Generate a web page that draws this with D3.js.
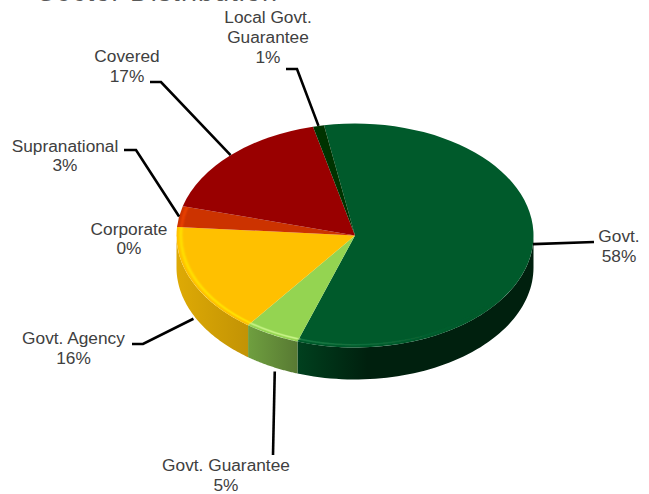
<!DOCTYPE html>
<html>
<head>
<meta charset="utf-8">
<title>Sector Distribution</title>
<script src="https://cdn.jsdelivr.net/npm/d3@7/dist/d3.min.js"></script>
<style>
  html, body { margin: 0; padding: 0; background: #fff; overflow: hidden; }
  svg { display: block; }
  text { font-family: "Liberation Sans", Arial, sans-serif; fill: #404040; }
</style>
</head>
<body>
<svg id="chart" width="649" height="494"></svg>
<script>
// Sector shares, in percent, clockwise from the start of the pie
const sectors = ["Govt.", "Govt. Guarantee", "Govt. Agency", "Corporate", "Supranational", "Covered", "Local Govt. Guarantee"];
const shares = [58, 5, 16, 0, 3, 17, 1];
const labelLines = [["Govt."], ["Govt. Guarantee"], ["Govt. Agency"], ["Corporate"], ["Supranational"], ["Covered"], ["Local Govt.", "Guarantee"]];

// Per-sector paint: top face, wall (left to right), rim glint
const faceColors = ["#005a2b", "#94d451", "#ffc000", "#ff6600", "#cc3300", "#990000", "#003300"];
const wallLeft = ["#00401e", "#6f9f3f", "#deaa05", "#d95500", "#aa2b00", "#800000", "#002800"];
const wallRight = ["#00200e", "#587a33", "#c29305", "#d95500", "#aa2b00", "#800000", "#002800"];
const glintColors = ["#1a7a45", "#c8f488", "#ffe600", "#ff7a00", "#ff4a00", null, null];

// Label placement: text centre, first baseline, leader elbow points
const labelCentre = [619, 226, 73.5, 129, 65, 127, 268];
const labelBaseline = [242, 471, 344, 235, 152, 62, 23];
const lineGap = [20, 20, 20, 19, 19, 20, 20];
const leaderElbows = [
  [[594, 242]],
  [[273, 455]],
  [[143, 344], [132, 344]],
  [],
  [[136, 150], [124, 150]],
  [[161, 82], [150, 82]],
  [[297, 69], [286, 69]]
];

const cx = 355, cy = 235.5, rx = 178.5, ry = 112, depth = 32;
const startDeg = -10;
const toRad = Math.PI / 180;

const svg = d3.select("#chart");
const defs = svg.append("defs");

defs.append("filter").attr("id", "soft")
  .attr("x", "-10%").attr("y", "-10%").attr("width", "120%").attr("height", "120%")
  .append("feGaussianBlur").attr("stdDeviation", 1);

// Title sits mostly above the top edge of the frame
svg.append("text")
  .attr("x", 37).attr("y", 0.8)
  .attr("font-size", 27)
  .attr("textLength", 240)
  .style("fill", "#595959")
  .text("Sector Distribution");

const pie = d3.pie().sort(null).value(d => d)
  .startAngle(startDeg * toRad)
  .endAngle((startDeg + 360) * toRad);
const slices = pie(shares);

// Ellipse projection of the flat pie
const px = d3.scaleLinear().domain([-1, 1]).range([cx - rx, cx + rx]);
const py = d3.scaleLinear().domain([-1, 1]).range([cy - ry, cy + ry]);
const rimX = a => px(Math.sin(a));
const rimY = a => py(-Math.cos(a));

// Front-facing walls: the part of each slice between 90 and 270 degrees
const wallLine = d3.line();
const walls = svg.append("g");
slices.forEach((s, i) => {
  const a0 = Math.max(s.startAngle, Math.PI / 2);
  const a1 = Math.min(s.endAngle, Math.PI * 3 / 2);
  if (a1 <= a0) return;
  const steps = d3.range(0, 61).map(k => a0 + (a1 - a0) * k / 60);
  const top = steps.map(a => [rimX(a), rimY(a)]);
  const bottom = steps.slice().reverse().map(a => [rimX(a), rimY(a) + depth]);
  const gradId = "wall" + i;
  const xs = top.map(p => p[0]);
  const grad = defs.append("linearGradient").attr("id", gradId)
    .attr("gradientUnits", "userSpaceOnUse")
    .attr("x1", d3.min(xs)).attr("x2", i === 0 ? d3.min(xs) + 70 : d3.max(xs))
    .attr("y1", 0).attr("y2", 0);
  grad.append("stop").attr("offset", 0).attr("stop-color", wallLeft[i]);
  grad.append("stop").attr("offset", 1).attr("stop-color", wallRight[i]);
  walls.append("path")
    .attr("d", wallLine(top.concat(bottom)) + "Z")
    .attr("fill", `url(#${gradId})`);
});

// Top faces: a unit pie squashed into the ellipse
const arc = d3.arc().innerRadius(0).outerRadius(rx);
const face = svg.append("g")
  .attr("transform", `translate(${cx},${cy}) scale(1,${ry / rx})`);
face.selectAll("path.slice")
  .data(slices)
  .join("path")
  .attr("class", "slice")
  .attr("d", arc)
  .attr("fill", (d, i) => faceColors[i]);

// Glint along the bevelled front rim
const glintArc = d3.arc().innerRadius(rx - 5.5).outerRadius(rx - 3);
const glint = face.append("g").attr("filter", "url(#soft)");
const govtFade = defs.append("linearGradient").attr("id", "govtFade")
  .attr("gradientUnits", "userSpaceOnUse")
  .attr("x1", -60).attr("x2", 110).attr("y1", 0).attr("y2", 0);
govtFade.append("stop").attr("offset", 0).attr("stop-color", glintColors[0]);
govtFade.append("stop").attr("offset", 1).attr("stop-color", faceColors[0]);
slices.forEach((s, i) => {
  if (!glintColors[i] || s.value === 0) return;
  const a0 = i === 0 ? Math.max(s.startAngle, 130 * toRad) : s.startAngle;
  glint.append("path")
    .attr("d", glintArc({ startAngle: a0, endAngle: s.endAngle }))
    .attr("fill", i === 0 ? "url(#govtFade)" : glintColors[i])
    .attr("opacity", i === 4 ? 0.7 : 1);
});

// Leader lines run from the middle of each slice's rim to its label
const leaders = svg.append("g");
slices.forEach((s, i) => {
  if (!leaderElbows[i].length) return;
  const mid = (s.startAngle + s.endAngle) / 2;
  const front = Math.cos(mid) < -0.2;
  const anchor = [rimX(mid) + (i === 2 ? 1 : i === 1 ? 3 : 0), rimY(mid) + (front ? depth + 5 : 0)];
  leaders.append("path")
    .attr("d", d3.line()([anchor, ...leaderElbows[i]]))
    .attr("fill", "none")
    .attr("stroke", "#000")
    .attr("stroke-width", 2.6);
});

// Category and percentage labels
sectors.forEach((name, i) => {
  const rows = labelLines[i].concat(shares[i] + "%");
  const group = svg.append("text")
    .attr("text-anchor", "middle")
    .attr("font-size", 17.3);
  rows.forEach((row, r) => {
    group.append("tspan")
      .attr("x", labelCentre[i])
      .attr("y", labelBaseline[i] + lineGap[i] * r)
      .text(row);
  });
});
</script>
</body>
</html>
